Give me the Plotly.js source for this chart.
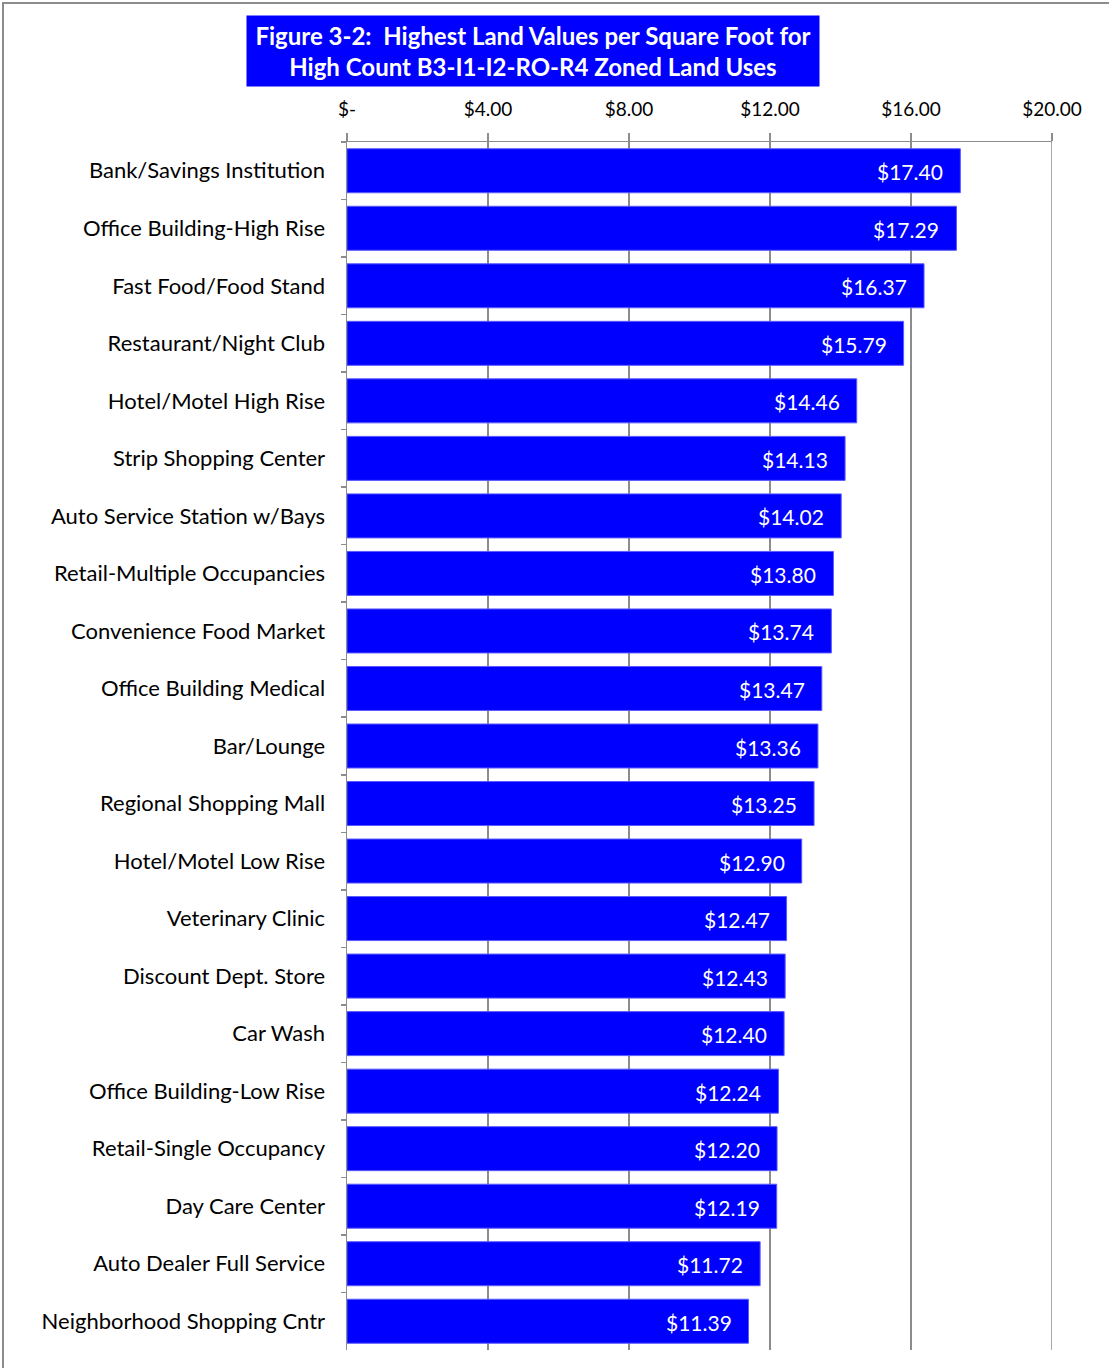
<!DOCTYPE html>
<html>
<head>
<meta charset="utf-8">
<script src="https://cdn.plot.ly/plotly-3.0.1.min.js"></script>
<style>
  html, body { margin: 0; padding: 0; background: #fff; }
  #wrap { position: relative; width: 1109px; height: 1368px; overflow: hidden; }
  #chart { position: absolute; left: 0; top: 0; width: 1109px; height: 1368px; }
  #frame { position: absolute; left: 2px; top: 2px; width: 1200px; height: 1500px;
           border-left: 2px solid #8c8c8c; border-top: 2px solid #8c8c8c; pointer-events: none; }
</style>
</head>
<body>
<div id="wrap">
  <div id="chart"></div>
  <div id="frame"></div>
</div>
<script>
const categories = [
  "Bank/Savings Institution",
  "Office Building-High Rise",
  "Fast Food/Food Stand",
  "Restaurant/Night Club",
  "Hotel/Motel High Rise",
  "Strip Shopping Center",
  "Auto Service Station w/Bays",
  "Retail-Multiple Occupancies",
  "Convenience Food Market",
  "Office Building Medical",
  "Bar/Lounge",
  "Regional Shopping Mall",
  "Hotel/Motel Low Rise",
  "Veterinary Clinic",
  "Discount Dept. Store",
  "Car Wash",
  "Office Building-Low Rise",
  "Retail-Single Occupancy",
  "Day Care Center",
  "Auto Dealer Full Service",
  "Neighborhood Shopping Cntr"
];
const values = [17.40, 17.29, 16.37, 15.79, 14.46, 14.13, 14.02, 13.80, 13.74, 13.47, 13.36,
                13.25, 12.90, 12.47, 12.43, 12.40, 12.24, 12.20, 12.19, 11.72, 11.39];
const tickValues = [0, 4, 8, 12, 16, 20];
const tickLabels = ["$-", "$4.00", "$8.00", "$12.00", "$16.00", "$20.00"];
const titleText = "Figure 3-2:\u00a0 Highest Land Values per Square Foot for<br>High Count B3-I1-I2-RO-R4 Zoned Land Uses";

const FONT = "Lato, 'Open Sans', sans-serif";
const GRID = "#8c8c8c";

const trace = {
  type: "bar",
  orientation: "h",
  x: values,
  y: categories,
  marker: { color: "#0000FF", line: { color: "#5a5aff", width: 1 } },
  hoverinfo: "skip"
};

const valueAnnotations = values.map((v, i) => ({
  x: v, y: categories[i], xref: "x", yref: "y",
  text: "$" + v.toFixed(2),
  showarrow: false, xanchor: "right", yanchor: "middle", xshift: -15, yshift: -1,
  font: { family: FONT, size: 21, color: "#ffffff" }
}));

const titleAnnotation = {
  xref: "paper", yref: "paper", x: 0.264, y: 1.0755,
  xanchor: "center", yanchor: "middle",
  text: "<b>" + titleText + "</b>",
  showarrow: false, align: "center", valign: "middle",
  bgcolor: "#0000FF", borderpad: 0, width: 572, height: 70,
  font: { family: FONT, size: 24, color: "#ffffff" }
};

const layout = {
  width: 1109, height: 1368,
  margin: { l: 347, r: 57, t: 142, b: 18, pad: 0 },
  paper_bgcolor: "rgba(0,0,0,0)",
  plot_bgcolor: "#ffffff",
  showlegend: false,
  bargap: 0.235,
  font: { family: FONT, color: "#000000" },
  xaxis: {
    side: "top", range: [0, 20], fixedrange: true,
    tickmode: "array", tickvals: tickValues, ticktext: tickLabels,
    showgrid: true, gridcolor: GRID, gridwidth: 1.5,
    zeroline: false, showline: true, linecolor: GRID, linewidth: 1.5,
    ticks: "outside", ticklen: 8, tickcolor: GRID, tickwidth: 1.5,
    ticklabelstandoff: 9,
    tickfont: { family: FONT, size: 19, color: "#000000" }
  },
  yaxis: {
    type: "category", autorange: "reversed", fixedrange: true,
    showgrid: false, zeroline: false,
    showline: true, linecolor: GRID, linewidth: 1.5,
    ticks: "outside", tickson: "boundaries", ticklen: 5, tickcolor: GRID, tickwidth: 1.5,
    ticklabelstandoff: 16,
    tickfont: { family: FONT, size: 22, color: "#000000" }
  },
  shapes: [{
    type: "line", xref: "x", yref: "paper",
    x0: tickValues[tickValues.length - 1], x1: tickValues[tickValues.length - 1], y0: 0, y1: 1,
    line: { color: GRID, width: 1.5 }, layer: "below"
  }],
  annotations: [titleAnnotation].concat(valueAnnotations)
};

Plotly.newPlot("chart", [trace], layout, { staticPlot: true, displayModeBar: false });
</script>
</body>
</html>
